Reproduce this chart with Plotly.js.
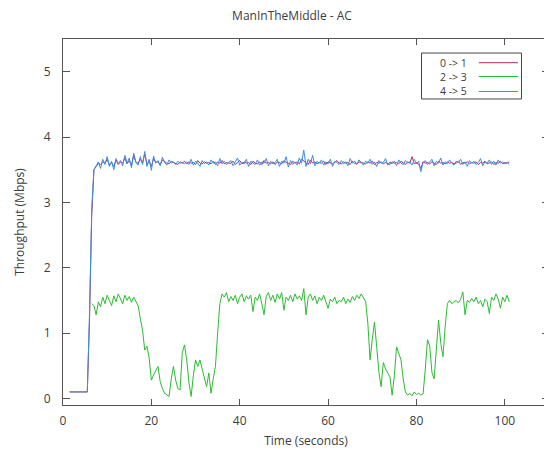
<!DOCTYPE html>
<html>
<head>
<meta charset="utf-8">
<script src="https://cdn.plot.ly/plotly-3.0.1.min.js"></script>
<style>
html, body { margin: 0; padding: 0; overflow: hidden; background: #fff; }
#chart { width: 549px; height: 451px; }
</style>
</head>
<body>
<div id="chart"></div>
<script>
// Time (seconds)
var timeSec = [
 0,0.5,1,1.5,2,2.5,3,3.5,4,4.5,5,5.5,6,6.5,7,7.5,
 8,8.5,9,9.5,10,10.5,11,11.5,12,12.5,
 13,13.5,14,14.5,15,15.5,16,16.5,17,17.5,
 18,18.5,19,19.5,20,20.5,21,21.5,22,22.5,
 23,23.5,24,24.5,25,25.5,26,26.5,27,27.5,
 28,28.5,29,29.5,30,30.5,31,31.5,32,32.5,
 33,33.5,34,34.5,35,35.5,36,36.5,37,37.5,
 38,38.5,39,39.5,40,40.5,41,41.5,42,42.5,
 43,43.5,44,44.5,45,45.5,46,46.5,47,47.5,
 48,48.5,49,49.5,50,50.5,51,51.5,52,52.5,
 53,53.5,54,54.5,55,55.5,56,56.5,57,57.5,
 58,58.5,59,59.5,60,60.5,61,61.5,62,62.5,
 63,63.5,64,64.5,65,65.5,66,66.5,67,67.5,
 68,68.5,69,69.5,70,70.5,71,71.5,72,72.5,
 73,73.5,74,74.5,75,75.5,76,76.5,77,77.5,
 78,78.5,79,79.5,80,80.5,81,81.5,82,82.5,
 83,83.5,84,84.5,85,85.5,86,86.5,87,87.5,
 88,88.5,89,89.5,90,90.5,91,91.5,92,92.5,
 93,93.5,94,94.5,95,95.5,96,96.5,97,97.5,
 98,98.5,99,99.5,100,100.5,101
];

var seriesNames = ["0 -> 1", "2 -> 3", "4 -> 5"];
var seriesColors = ["#b02a6e", "#2dbb33", "#3a8fdc"];

// Throughput (Mbps) 0 -> 1
var flow01 = [
 null,null,null,0.1,0.1,0.1,0.1,0.1,0.1,0.1,0.1,0.1,1.2,2.8,3.5,3.55,
 3.60,3.58,3.62,3.60,3.66,3.57,3.61,3.55,3.65,3.58,
 3.62,3.60,3.68,3.59,3.64,3.57,3.72,3.61,3.60,3.66,
 3.60,3.74,3.58,3.63,3.55,3.67,3.61,3.62,3.58,3.65,
 3.62,3.60,3.59,3.63,3.61,3.60,3.58,3.62,3.60,3.63,
 3.59,3.62,3.60,3.61,3.58,3.64,3.60,3.59,3.62,3.60,
 3.61,3.59,3.63,3.58,3.62,3.60,3.64,3.59,3.61,3.60,
 3.60,3.63,3.58,3.61,3.64,3.59,3.62,3.60,3.61,3.58,
 3.63,3.60,3.59,3.62,3.58,3.64,3.60,3.61,3.59,3.62,
 3.58,3.62,3.60,3.59,3.64,3.61,3.60,3.58,3.63,3.60,
 3.62,3.59,3.66,3.63,3.60,3.58,3.65,3.60,3.62,3.59,
 3.61,3.60,3.63,3.58,3.62,3.60,3.59,3.61,3.64,3.60,
 3.59,3.62,3.60,3.61,3.58,3.63,3.60,3.59,3.62,3.61,
 3.60,3.59,3.62,3.60,3.63,3.58,3.61,3.60,3.62,3.59,
 3.61,3.60,3.58,3.62,3.60,3.61,3.59,3.63,3.60,3.58,
 3.62,3.60,3.70,3.59,3.61,3.58,3.52,3.62,3.60,3.61,
 3.59,3.62,3.60,3.58,3.63,3.60,3.61,3.59,3.62,3.60,
 3.61,3.59,3.60,3.63,3.58,3.61,3.60,3.62,3.59,3.61,
 3.60,3.62,3.58,3.61,3.60,3.63,3.59,3.60,3.62,3.58,
 3.61,3.60,3.63,3.59,3.61,3.60,3.62
];

// Throughput (Mbps) 2 -> 3
var flow23 = [
 null,null,null,null,null,null,null,null,null,null,null,null,null,1.45,1.42,1.28,
 1.48,1.40,1.55,1.45,1.58,1.50,1.42,1.57,1.48,1.60,
 1.52,1.45,1.58,1.50,1.56,1.47,1.55,1.48,1.42,1.22,
 1.05,0.74,0.80,0.62,0.28,0.36,0.42,0.49,0.26,0.15,
 0.08,0.05,0.03,0.30,0.49,0.28,0.15,0.13,0.70,0.82,
 0.59,0.25,0.03,0.35,0.59,0.49,0.59,0.45,0.30,0.18,
 0.39,0.08,0.30,0.49,1.00,1.45,1.60,1.55,1.62,1.48,
 1.56,1.50,1.58,1.45,1.55,1.60,1.48,1.57,1.52,1.58,
 1.33,1.55,1.50,1.60,1.45,1.28,1.56,1.62,1.50,1.58,
 1.47,1.60,1.52,1.62,1.35,1.55,1.50,1.58,1.48,1.60,
 1.52,1.57,1.50,1.68,1.28,1.55,1.60,1.50,1.57,1.45,
 1.55,1.50,1.58,1.47,1.38,1.52,1.48,1.55,1.45,1.50,
 1.48,1.55,1.45,1.52,1.47,1.56,1.50,1.58,1.53,1.60,
 1.55,1.48,1.15,0.59,0.90,1.17,0.79,0.40,0.18,0.55,
 0.45,0.40,0.33,0.05,0.35,0.79,0.70,0.59,0.30,0.10,
 0.05,0.08,0.04,0.10,0.06,0.08,0.05,0.07,0.45,0.90,
 0.80,0.40,0.30,0.80,1.20,0.85,0.64,1.10,1.45,1.50,
 1.45,1.48,1.50,1.46,1.52,1.63,1.28,1.50,1.47,1.53,
 1.48,1.55,1.45,1.50,1.40,1.52,1.48,1.30,1.55,1.50,
 1.60,1.52,1.38,1.55,1.48,1.58,1.48
];

// Throughput (Mbps) 4 -> 5
var flow45 = [
 null,null,null,0.1,0.1,0.1,0.1,0.1,0.1,0.1,0.1,0.1,1.3,2.9,3.5,3.55,
 3.62,3.52,3.66,3.58,3.70,3.55,3.63,3.50,3.67,3.59,
 3.64,3.56,3.72,3.60,3.68,3.53,3.75,3.62,3.57,3.70,
 3.58,3.78,3.55,3.66,3.49,3.71,3.60,3.64,3.56,3.69,
 3.61,3.57,3.65,3.60,3.62,3.58,3.63,3.60,3.61,3.59,
 3.62,3.58,3.66,3.57,3.63,3.60,3.55,3.64,3.59,3.62,
 3.57,3.65,3.60,3.62,3.56,3.67,3.59,3.63,3.58,3.61,
 3.64,3.56,3.62,3.68,3.57,3.61,3.59,3.66,3.55,3.63,
 3.60,3.58,3.65,3.57,3.62,3.60,3.67,3.56,3.63,3.59,
 3.61,3.66,3.55,3.63,3.60,3.70,3.54,3.64,3.58,3.62,
 3.57,3.68,3.60,3.80,3.55,3.66,3.59,3.72,3.56,3.63,
 3.60,3.65,3.57,3.62,3.59,3.66,3.55,3.63,3.61,3.58,
 3.64,3.59,3.62,3.56,3.67,3.60,3.63,3.58,3.65,3.60,
 3.57,3.63,3.60,3.66,3.58,3.62,3.55,3.64,3.60,3.61,
 3.67,3.57,3.62,3.59,3.63,3.56,3.65,3.60,3.58,3.64,
 3.60,3.62,3.57,3.66,3.59,3.63,3.47,3.61,3.64,3.58,
 3.62,3.66,3.56,3.63,3.60,3.68,3.57,3.62,3.59,3.65,
 3.60,3.57,3.63,3.61,3.66,3.58,3.62,3.55,3.64,3.60,
 3.63,3.58,3.61,3.67,3.56,3.62,3.60,3.65,3.58,3.63,
 3.57,3.65,3.60,3.62,3.59,3.61,3.58
];

var xTickVals = [0, 20, 40, 60, 80, 100];
var yTickVals = [0, 1, 2, 3, 4, 5];

var seriesValues = [flow01, flow23, flow45];

var FONT = "Open Sans, DejaVu Sans, sans-serif";
var TXT = "#3c3c3c";
var AX = "#555555";

var traces = seriesValues.map(function (vals, k) {
  return {
    type: "scatter",
    mode: "lines",
    x: timeSec,
    y: vals,
    name: seriesNames[k],
    line: { color: seriesColors[k], width: 1 },
    connectgaps: false,
    hoverinfo: "x+y+name"
  };
});

// Legend drawn gnuplot-style: label on the left, sample line on the right
var legX0 = 0.7377, legX1 = 0.9434, legY0 = 0.8361, legY1 = 0.9617;
var rowY = [0.9352, 0.8975, 0.8566];
var shapes = [{
  type: "rect", xref: "paper", yref: "paper",
  x0: legX0, x1: legX1, y0: legY0, y1: legY1,
  line: { color: "#444444", width: 1 }, fillcolor: "rgba(0,0,0,0)"
}];
var annotations = [];
seriesNames.forEach(function (nm, k) {
  shapes.push({
    type: "line", xref: "paper", yref: "paper",
    x0: 0.8556, x1: 0.9362, y0: rowY[k], y1: rowY[k],
    line: { color: seriesColors[k], width: 1 }
  });
  annotations.push({
    xref: "paper", yref: "paper", x: 0.8338, y: rowY[k],
    xanchor: "right", yanchor: "middle", showarrow: false,
    borderpad: 0,
    text: nm, font: { family: FONT, size: 10.5, color: TXT }
  });
});

var layout = {
  width: 549,
  height: 451,
  margin: { l: 63, r: 0, t: 39, b: 46, pad: 0 },
  paper_bgcolor: "#ffffff",
  plot_bgcolor: "#ffffff",
  showlegend: false,
  font: { family: FONT, size: 12, color: TXT },
  title: {
    text: "ManInTheMiddle - AC",
    font: { family: FONT, size: 12, color: TXT },
    xref: "container", yref: "container",
    x: 292 / 549, xanchor: "center",
    y: 1 - 15.5 / 451, yanchor: "middle"
  },
  xaxis: {
    range: [0, 110],
    tickvals: xTickVals,
    ticktext: xTickVals.map(String),
    ticks: "inside", ticklen: 6, tickwidth: 1, tickcolor: AX,
    showline: true, linecolor: AX, linewidth: 1, mirror: "ticks",
    showgrid: false, zeroline: false,
    ticklabelstandoff: 5,
    tickfont: { family: FONT, size: 12, color: TXT },
    title: { text: "Time (seconds)", font: { family: FONT, size: 12, color: TXT }, standoff: 8 }
  },
  yaxis: {
    range: [-0.1, 5.5],
    tickvals: yTickVals,
    ticktext: yTickVals.map(String),
    ticks: "inside", ticklen: 7, tickwidth: 1, tickcolor: AX,
    showline: true, linecolor: AX, linewidth: 1, mirror: "ticks",
    showgrid: false, zeroline: false,
    ticklabelstandoff: 9,
    tickfont: { family: FONT, size: 12, color: TXT },
    title: { text: "Throughput (Mbps)", font: { family: FONT, size: 12, color: TXT }, standoff: 16 }
  },
  shapes: shapes,
  annotations: annotations
};

Plotly.newPlot("chart", traces, layout, { staticPlot: true, displayModeBar: false });
</script>
</body>
</html>
